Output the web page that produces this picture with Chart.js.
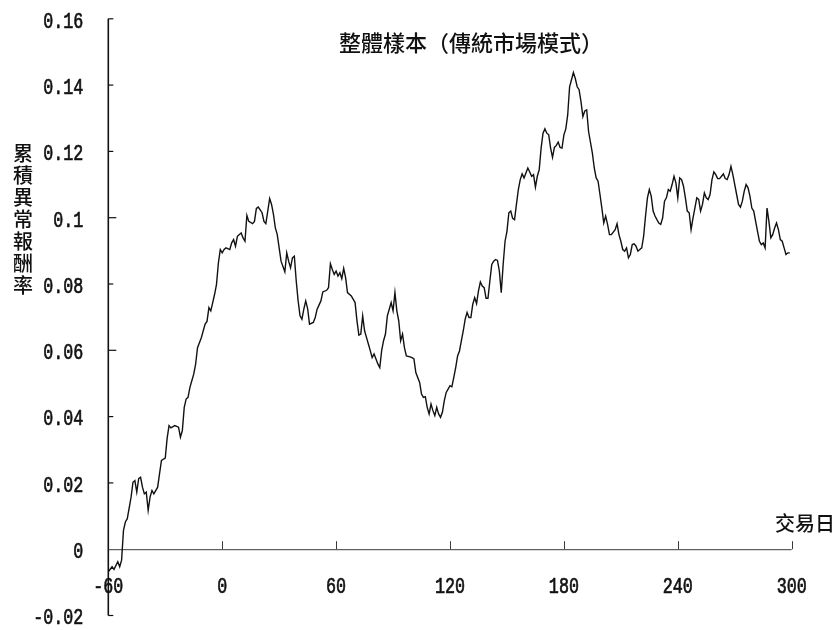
<!DOCTYPE html>
<html>
<head>
<meta charset="utf-8">
<script src="https://cdn.jsdelivr.net/npm/chart.js@4/dist/chart.umd.min.js"></script>
<style>
  html, body { margin: 0; padding: 0; background: #fff; }
  #wrap { width: 837px; height: 630px; position: relative; }
</style>
</head>
<body>
<div id="wrap"><canvas id="c" width="837" height="630"></canvas></div>
<script>
// Event window in trading days relative to the event date
const days = [
  -60,-58,-57,-55,-54,-53,-52,-51,-50,-48,-47,-46,-45,-44,-43,-42,-41,-40,-39,-38,
  -37,-36,-34,-33,-32,-30,-29,-28,-27,-25,-23,-22,-21,-20,-19,-18,-17,-16,-15,-14,
  -13,-11,-9,-8,-7,-6,-5,-4,-3,-2,-1,0,1,2,4,5,6,7,8,10,
  11,12,13,14,16,17,18,19,21,22,23,24,25,26,27,28,29,30,31,33,
  34,35,36,37,38,39,40,41,42,43,44,45,46,48,49,50,52,53,55,56,
  57,58,59,60,61,62,63,64,65,66,68,70,71,72,73,74,75,76,77,78,
  79,80,81,82,83,84,85,86,87,88,89,90,91,92,93,94,95,96,97,99,
  100,101,102,104,105,106,107,108,109,110,111,112,113,114,115,116,117,118,119,120,
  121,122,123,124,125,126,127,128,129,130,131,132,133,134,135,136,137,138,139,140,
  141,142,143,144,145,146,147,148,149,150,151,152,153,154,155,156,157,158,159,160,
  161,162,163,164,165,166,167,168,169,170,171,172,173,174,175,176,177,178,179,180,
  181,182,183,184,185,186,187,188,189,190,191,192,193,195,196,197,198,199,200,201,
  202,203,204,205,207,208,209,210,211,212,213,214,215,216,217,218,219,221,222,223,
  224,225,226,227,228,229,230,231,232,233,234,235,236,237,238,239,240,241,242,243,
  244,245,246,247,248,249,250,251,252,253,254,255,256,257,258,259,260,261,262,264,
  265,266,267,268,269,270,271,272,273,274,275,276,277,278,279,280,281,282,283,284,
  285,286,287,288,289,290,291,292,293,294,295,296,297,298,299
];

// Cumulative abnormal return (CAR) for the whole sample, market model
const car = [
  -0.0068,-0.0053,-0.0061,-0.0038,-0.0053,-0.0033,0.0057,0.0082,0.0092,0.0157,0.0202,0.0207,0.0172,0.0213,0.0217,0.0187,0.0167,0.0172,0.0117,0.0157,
  0.0177,0.0167,0.0187,0.0228,0.0268,0.0275,0.0335,0.0373,0.0366,0.0373,0.0368,0.0338,0.0358,0.0428,0.0453,0.0458,0.0488,0.0508,0.0528,0.0558,
  0.0608,0.0638,0.0679,0.0687,0.0729,0.0719,0.0744,0.0769,0.0799,0.0864,0.0904,0.0894,0.0904,0.0909,0.0904,0.0924,0.0934,0.0914,0.0944,0.0954,
  0.0939,0.0929,0.1007,0.0989,0.0982,0.0989,0.1028,0.1032,0.1015,0.0989,0.0982,0.1020,0.1058,0.1040,0.1010,0.0969,0.0949,0.0909,0.0869,0.0837,
  0.0894,0.0869,0.0849,0.0879,0.0884,0.0809,0.0749,0.0704,0.0694,0.0724,0.0749,0.0726,0.0679,0.0684,0.0699,0.0724,0.0749,0.0776,0.0781,0.0789,
  0.0861,0.0844,0.0829,0.0839,0.0824,0.0834,0.0816,0.0847,0.0819,0.0774,0.0764,0.0744,0.0689,0.0646,0.0649,0.0704,0.0659,0.0639,0.0619,0.0599,
  0.0578,0.0589,0.0574,0.0559,0.0548,0.0599,0.0629,0.0649,0.0704,0.0724,0.0744,0.0719,0.0774,0.0719,0.0689,0.0629,0.0649,0.0608,0.0583,0.0580,
  0.0578,0.0574,0.0533,0.0503,0.0468,0.0458,0.0460,0.0428,0.0408,0.0438,0.0418,0.0403,0.0428,0.0408,0.0398,0.0413,0.0448,0.0473,0.0483,0.0493,
  0.0490,0.0518,0.0548,0.0583,0.0598,0.0629,0.0659,0.0694,0.0714,0.0699,0.0699,0.0739,0.0759,0.0741,0.0779,0.0806,0.0794,0.0789,0.0757,0.0757,
  0.0809,0.0859,0.0869,0.0874,0.0871,0.0839,0.0774,0.0859,0.0929,0.0959,0.1015,0.1020,0.0998,0.0994,0.1040,0.1085,0.1115,0.1132,0.1120,0.1135,
  0.1150,0.1138,0.1125,0.1130,0.1092,0.1125,0.1145,0.1210,0.1255,0.1268,0.1255,0.1250,0.1210,0.1182,0.1212,0.1218,0.1228,0.1212,0.1210,0.1250,
  0.1268,0.1310,0.1395,0.1416,0.1438,0.1420,0.1395,0.1386,0.1350,0.1305,0.1322,0.1325,0.1260,0.1195,0.1150,0.1120,0.1110,0.1070,0.1029,0.0984,
  0.1005,0.0980,0.0949,0.0949,0.0964,0.0982,0.0949,0.0929,0.0904,0.0899,0.0909,0.0879,0.0889,0.0919,0.0921,0.0914,0.0899,0.0909,0.0944,0.1005,
  0.1060,0.1085,0.1065,0.1020,0.1005,0.0994,0.0984,0.0980,0.0999,0.1050,0.1060,0.1085,0.1080,0.1100,0.1125,0.1105,0.1060,0.1120,0.1115,0.1095,
  0.1060,0.1020,0.1015,0.0964,0.0999,0.1029,0.1060,0.1055,0.1020,0.1040,0.1075,0.1060,0.1055,0.1070,0.1115,0.1138,0.1130,0.1118,0.1118,0.1132,
  0.1118,0.1115,0.1130,0.1155,0.1130,0.1100,0.1070,0.1040,0.1032,0.1050,0.1080,0.1100,0.1090,0.1065,0.1029,0.1020,0.0989,0.0959,0.0929,0.0919,
  0.0924,0.0909,0.1029,0.0989,0.0939,0.0949,0.0969,0.0984,0.0964,0.0934,0.0929,0.0909,0.0889,0.0894,0.0894
];

const xTicks = [-60, 0, 60, 120, 180, 240, 300];
const yTicks = [-0.02, 0, 0.02, 0.04, 0.06, 0.08, 0.1, 0.12, 0.14, 0.16];
const yTickLabels = ['-0.02', '0', '0.02', '0.04', '0.06', '0.08', '0.1', '0.12', '0.14', '0.16'];

const chartTitle = '整體樣本（傳統市場模式）';
const yTitle = '累積異常報酬率';
const xTitle = '交易日';

const INK = '#111';
const NUM_FONT = '22px "Liberation Mono", "DejaVu Sans Mono", monospace';
const CJK_FONT = '"Noto Sans CJK TC", "Noto Sans CJK SC", sans-serif';

// Draws narrow (horizontally condensed) numerals with a slightly heavier stroke
function narrowText(ctx, text, x, y, align) {
  ctx.save();
  ctx.translate(x, y);
  ctx.scale(0.76, 1);
  ctx.textAlign = align;
  ctx.textBaseline = 'middle';
  ctx.lineWidth = 0.7;
  ctx.strokeStyle = INK;
  ctx.fillText(text, 0, 0);
  ctx.strokeText(text, 0, 0);
  ctx.restore();
}

// Axes drawn through the zero line, inward ticks, labels and titles
const axesFrame = {
  id: 'axesFrame',
  beforeDatasetsDraw(chart) {
    const { ctx, scales: { x, y } } = chart;
    const x0 = x.getPixelForValue(xTicks[0]);
    const xEnd = x.getPixelForValue(xTicks[xTicks.length - 1]);
    const yTop = y.getPixelForValue(yTicks[yTicks.length - 1]);
    const yBot = y.getPixelForValue(yTicks[0]);
    const yZero = y.getPixelForValue(0);

    ctx.save();
    ctx.strokeStyle = INK;
    ctx.lineCap = 'butt';

    // vertical axis
    ctx.lineWidth = 1.6;
    ctx.beginPath();
    ctx.moveTo(x0, yTop);
    ctx.lineTo(x0, yBot);
    ctx.stroke();

    // vertical axis ticks (pointing into the plot)
    ctx.lineWidth = 1.2;
    yTicks.forEach(v => {
      const py = y.getPixelForValue(v);
      const len = (v === 0.1 || v === 0.06) ? 8 : 5;
      if (v === 0) return;
      ctx.beginPath();
      ctx.moveTo(x0, py);
      ctx.lineTo(x0 + len, py);
      ctx.stroke();
    });

    // horizontal axis along CAR = 0
    ctx.strokeStyle = '#3a3a3a';
    ctx.lineWidth = 1;
    ctx.beginPath();
    ctx.moveTo(x0, yZero + 0.5);
    ctx.lineTo(xEnd, yZero + 0.5);
    ctx.stroke();
    xTicks.slice(1).forEach(t => {
      const px = Math.round(x.getPixelForValue(t)) + 0.5;
      ctx.beginPath();
      ctx.moveTo(px, yZero);
      ctx.lineTo(px, yZero - 8);
      ctx.stroke();
    });

    // numeric labels
    ctx.fillStyle = INK;
    ctx.font = NUM_FONT;
    yTicks.forEach((v, i) => {
      narrowText(ctx, yTickLabels[i], x0 - 25, y.getPixelForValue(v) + 3, 'right');
    });
    xTicks.forEach(t => {
      narrowText(ctx, String(t), x.getPixelForValue(t), 587, 'center');
    });

    // titles
    ctx.fillStyle = INK;
    ctx.textBaseline = 'middle';
    ctx.font = '500 22px ' + CJK_FONT;
    ctx.textAlign = 'center';
    ctx.fillText(chartTitle, 471, 43);

    ctx.font = '500 20px ' + CJK_FONT;
    [...yTitle].forEach((ch, i) => {
      ctx.fillText(ch, 23, 153 + i * 22);
    });

    ctx.textAlign = 'left';
    ctx.fillText(xTitle, 775, 523);
    ctx.restore();
  }
};

new Chart(document.getElementById('c'), {
  type: 'line',
  data: {
    datasets: [{
      data: days.map((d, i) => ({ x: d, y: car[i] })),
      borderColor: INK,
      borderWidth: 1.4,
      pointRadius: 0,
      tension: 0,
      fill: false
    }]
  },
  options: {
    responsive: false,
    animation: false,
    layout: { padding: { left: 108.3, right: 45.3, top: 18.8, bottom: 14.5 } },
    plugins: { legend: { display: false }, tooltip: { enabled: false }, title: { display: false } },
    scales: {
      x: { type: 'linear', min: -60, max: 300, display: false },
      y: { type: 'linear', min: -0.02, max: 0.16, display: false }
    }
  },
  plugins: [axesFrame]
});
</script>
</body>
</html>
